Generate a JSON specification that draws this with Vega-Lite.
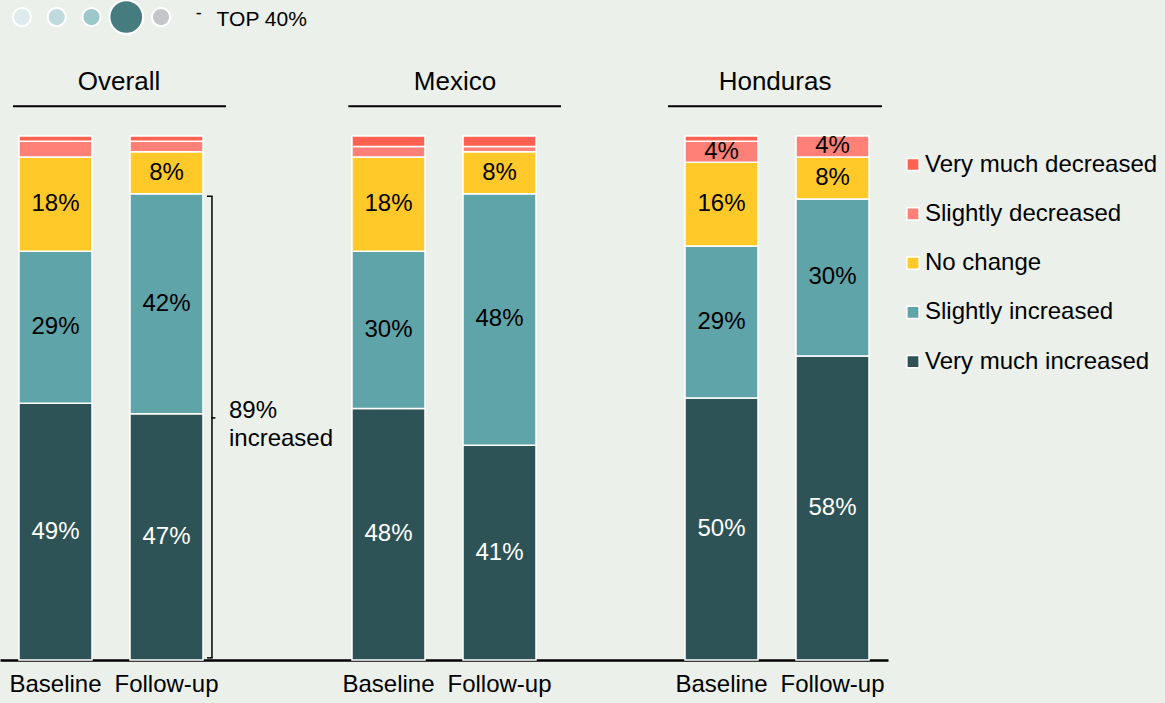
{
  "$schema": "https://vega.github.io/schema/vega-lite/v6.json",
  "width": 888,
  "height": 524,
  "autosize": {"type": "none"},
  "padding": {"left": 0, "top": 136, "right": 277, "bottom": 43},
  "background": "#ecf0eb",
  "config": {"view": {"stroke": null}, "font": "Liberation Sans", "text": {"font": "Liberation Sans"}},
  "datasets": {
    "bars": [
      {"slot": "OB", "cat": "Very much increased", "v": 49},
      {"slot": "OB", "cat": "Slightly increased", "v": 29},
      {"slot": "OB", "cat": "No change", "v": 18},
      {"slot": "OB", "cat": "Slightly decreased", "v": 3},
      {"slot": "OB", "cat": "Very much decreased", "v": 1},
      {"slot": "OF", "cat": "Very much increased", "v": 47},
      {"slot": "OF", "cat": "Slightly increased", "v": 42},
      {"slot": "OF", "cat": "No change", "v": 8},
      {"slot": "OF", "cat": "Slightly decreased", "v": 2},
      {"slot": "OF", "cat": "Very much decreased", "v": 1},
      {"slot": "MB", "cat": "Very much increased", "v": 48},
      {"slot": "MB", "cat": "Slightly increased", "v": 30},
      {"slot": "MB", "cat": "No change", "v": 18},
      {"slot": "MB", "cat": "Slightly decreased", "v": 2},
      {"slot": "MB", "cat": "Very much decreased", "v": 2},
      {"slot": "MF", "cat": "Very much increased", "v": 41},
      {"slot": "MF", "cat": "Slightly increased", "v": 48},
      {"slot": "MF", "cat": "No change", "v": 8},
      {"slot": "MF", "cat": "Slightly decreased", "v": 1},
      {"slot": "MF", "cat": "Very much decreased", "v": 2},
      {"slot": "HB", "cat": "Very much increased", "v": 50},
      {"slot": "HB", "cat": "Slightly increased", "v": 29},
      {"slot": "HB", "cat": "No change", "v": 16},
      {"slot": "HB", "cat": "Slightly decreased", "v": 4},
      {"slot": "HB", "cat": "Very much decreased", "v": 1},
      {"slot": "HF", "cat": "Very much increased", "v": 58},
      {"slot": "HF", "cat": "Slightly increased", "v": 30},
      {"slot": "HF", "cat": "No change", "v": 8},
      {"slot": "HF", "cat": "Slightly decreased", "v": 4}
    ],
    "groups": [
      {"g": "Overall", "b": "OB", "f": "OF"},
      {"g": "Mexico", "b": "MB", "f": "MF"},
      {"g": "Honduras", "b": "HB", "f": "HF"}
    ],
    "note": [{"slot": "OF"}],
    "dots": [{"i": 1}, {"i": 2}, {"i": 3}, {"i": 4}, {"i": 5}],
    "one": [{"k": "top"}]
  },
  "layer": [
    {
      "layer": [
        {
          "data": {"name": "bars"},
          "transform": [
            {"calculate": "indexof(['Very much increased','Slightly increased','No change','Slightly decreased','Very much decreased'], datum.cat)", "as": "ord"}
          ],
          "mark": {"type": "bar", "stroke": "white", "strokeWidth": 1.5},
          "encoding": {
            "x": {
              "field": "slot", "type": "nominal",
              "scale": {"domain": ["OB", "OF", "g1", "MB", "MF", "g2", "HB", "HF"], "paddingInner": 0.3423, "paddingOuter": 0.171},
              "axis": {
                "title": null, "ticks": false, "labelAngle": 0,
                "domainColor": "black", "domainWidth": 2.5,
                "labelFontSize": 24, "labelFont": "Liberation Sans", "labelColor": "black", "labelPadding": 12,
                "labelExpr": "substring(datum.value,1,2)=='B' ? 'Baseline' : (substring(datum.value,1,2)=='F' ? 'Follow-up' : '')"
              }
            },
            "y": {"field": "v", "type": "quantitative", "stack": "zero", "scale": {"domain": [0, 100], "nice": false}, "axis": null},
            "color": {
              "field": "cat", "type": "nominal",
              "scale": {
                "domain": ["Very much decreased", "Slightly decreased", "No change", "Slightly increased", "Very much increased"],
                "range": ["#fe6150", "#ff8076", "#ffc92a", "#5fa4a9", "#2d5356"]
              },
              "legend": {
                "title": null, "orient": "none", "legendX": 901, "legendY": 16.5,
                "symbolType": "square", "symbolSize": 150, "symbolStrokeColor": "white", "symbolStrokeWidth": 1.5, "symbolOpacity": 1,
                "labelFontSize": 24, "labelFont": "Liberation Sans", "labelColor": "black", "labelLimit": 0,
                "rowPadding": 25.3, "labelOffset": 0
              }
            },
            "order": {"field": "ord", "type": "quantitative"}
          }
        },
        {
          "data": {"name": "bars"},
          "transform": [
            {"calculate": "indexof(['Very much increased','Slightly increased','No change','Slightly decreased','Very much decreased'], datum.cat)", "as": "ord"},
            {"stack": "v", "groupby": ["slot"], "sort": [{"field": "ord", "order": "ascending"}], "as": ["v0", "v1"]},
            {"calculate": "(datum.v0 + datum.v1) / 2", "as": "mid"},
            {"calculate": "datum.v + '%'", "as": "lab"},
            {"filter": "datum.v >= 4"}
          ],
          "mark": {"type": "text", "fontSize": 24, "align": "center", "baseline": "middle"},
          "encoding": {
            "x": {"field": "slot", "type": "nominal"},
            "y": {"field": "mid", "type": "quantitative", "scale": {"domain": [0, 100], "nice": false}},
            "text": {"field": "lab"},
            "color": {"condition": {"test": "datum.cat == 'Very much increased'", "value": "white"}, "value": "black"}
          }
        },
        {
          "data": {"name": "groups"},
          "transform": [{"filter": "datum.g == 'Overall'"}],
          "mark": {"type": "rule", "color": "black", "strokeWidth": 2},
          "encoding": {
            "x": {"field": "b", "type": "nominal", "bandPosition": -0.082},
            "x2": {"field": "f", "bandPosition": 1.315},
            "y": {"datum": 105.7, "type": "quantitative", "scale": {"domain": [0, 100], "nice": false}}
          }
        },
        {
          "data": {"name": "groups"},
          "transform": [{"filter": "datum.g == 'Mexico'"}],
          "mark": {"type": "rule", "color": "black", "strokeWidth": 2},
          "encoding": {
            "x": {"field": "b", "type": "nominal", "bandPosition": -0.05},
            "x2": {"field": "f", "bandPosition": 1.342},
            "y": {"datum": 105.7, "type": "quantitative", "scale": {"domain": [0, 100], "nice": false}}
          }
        },
        {
          "data": {"name": "groups"},
          "transform": [{"filter": "datum.g == 'Honduras'"}],
          "mark": {"type": "rule", "color": "black", "strokeWidth": 2},
          "encoding": {
            "x": {"field": "b", "type": "nominal", "bandPosition": -0.233},
            "x2": {"field": "f", "bandPosition": 1.178},
            "y": {"datum": 105.7, "type": "quantitative", "scale": {"domain": [0, 100], "nice": false}}
          }
        },
        {
          "data": {"name": "groups"},
          "transform": [{"filter": "datum.g == 'Overall'"}],
          "mark": {"type": "text", "fontSize": 26, "align": "center", "baseline": "middle", "color": "black"},
          "encoding": {
            "x": {"field": "b", "type": "nominal", "bandPosition": 1.37},
            "y": {"datum": 110.4, "type": "quantitative", "scale": {"domain": [0, 100], "nice": false}},
            "text": {"field": "g"}
          }
        },
        {
          "data": {"name": "groups"},
          "transform": [{"filter": "datum.g == 'Mexico'"}],
          "mark": {"type": "text", "fontSize": 26, "align": "center", "baseline": "middle", "color": "black"},
          "encoding": {
            "x": {"field": "b", "type": "nominal", "bandPosition": 1.41},
            "y": {"datum": 110.4, "type": "quantitative", "scale": {"domain": [0, 100], "nice": false}},
            "text": {"field": "g"}
          }
        },
        {
          "data": {"name": "groups"},
          "transform": [{"filter": "datum.g == 'Honduras'"}],
          "mark": {"type": "text", "fontSize": 26, "align": "center", "baseline": "middle", "color": "black"},
          "encoding": {
            "x": {"field": "b", "type": "nominal", "bandPosition": 1.233},
            "y": {"datum": 110.4, "type": "quantitative", "scale": {"domain": [0, 100], "nice": false}},
            "text": {"field": "g"}
          }
        },
        {
          "data": {"name": "note"},
          "mark": {"type": "rule", "color": "black", "strokeWidth": 1.5},
          "encoding": {
            "x": {"field": "slot", "type": "nominal", "bandPosition": 1.123},
            "y": {"datum": 0.4, "type": "quantitative", "scale": {"domain": [0, 100], "nice": false}},
            "y2": {"datum": 88.5}
          }
        },
        {
          "data": {"name": "note"},
          "mark": {"type": "rule", "color": "black", "strokeWidth": 1.5},
          "encoding": {
            "x": {"field": "slot", "type": "nominal", "bandPosition": 1.055},
            "x2": {"field": "slot", "bandPosition": 1.133},
            "y": {"datum": 88.5, "type": "quantitative", "scale": {"domain": [0, 100], "nice": false}}
          }
        },
        {
          "data": {"name": "note"},
          "mark": {"type": "rule", "color": "black", "strokeWidth": 1.5},
          "encoding": {
            "x": {"field": "slot", "type": "nominal", "bandPosition": 1.055},
            "x2": {"field": "slot", "bandPosition": 1.133},
            "y": {"datum": 0.4, "type": "quantitative", "scale": {"domain": [0, 100], "nice": false}}
          }
        },
        {
          "data": {"name": "note"},
          "mark": {"type": "rule", "color": "black", "strokeWidth": 1.5},
          "encoding": {
            "x": {"field": "slot", "type": "nominal", "bandPosition": 1.113},
            "x2": {"field": "slot", "bandPosition": 1.17},
            "y": {"datum": 46.2, "type": "quantitative", "scale": {"domain": [0, 100], "nice": false}}
          }
        },
        {
          "data": {"name": "note"},
          "mark": {"type": "text", "fontSize": 24, "align": "left", "baseline": "middle", "lineHeight": 28, "color": "black"},
          "encoding": {
            "x": {"field": "slot", "type": "nominal", "bandPosition": 1.356},
            "y": {"datum": 47.5, "type": "quantitative", "scale": {"domain": [0, 100], "nice": false}},
            "text": {"value": ["89%", "increased"]}
          }
        }
      ]
    },
    {
      "layer": [
        {
          "data": {"name": "dots"},
          "mark": {"type": "circle", "stroke": "white", "strokeWidth": 2, "opacity": 1},
          "encoding": {
            "x": {"field": "i", "type": "quantitative", "scale": {"domain": [1, 5], "range": [22, 161]}, "axis": null},
            "y": {"datum": 122.7, "type": "quantitative", "scale": {"domain": [0, 100], "nice": false}},
            "fill": {"field": "i", "type": "nominal", "scale": {"domain": [1, 2, 3, 4, 5], "range": ["#deeaeb", "#bedadd", "#9cc8ca", "#467c7e", "#c6c6ca"]}, "legend": null},
            "size": {"condition": {"test": "datum.i == 4", "value": 1130}, "value": 330}
          }
        },
        {
          "data": {"name": "one"},
          "mark": {"type": "text", "fontSize": 18, "align": "left", "baseline": "middle", "color": "black"},
          "encoding": {
            "x": {"datum": 6.0, "type": "quantitative"},
            "y": {"datum": 123.2, "type": "quantitative", "scale": {"domain": [0, 100], "nice": false}},
            "text": {"value": "-"}
          }
        },
        {
          "data": {"name": "one"},
          "mark": {"type": "text", "fontSize": 21, "align": "left", "baseline": "middle", "color": "black"},
          "encoding": {
            "x": {"datum": 6.6, "type": "quantitative"},
            "y": {"datum": 122.1, "type": "quantitative", "scale": {"domain": [0, 100], "nice": false}},
            "text": {"value": "TOP 40%"}
          }
        }
      ]
    }
  ],
  "resolve": {"scale": {"x": "independent"}}
}
